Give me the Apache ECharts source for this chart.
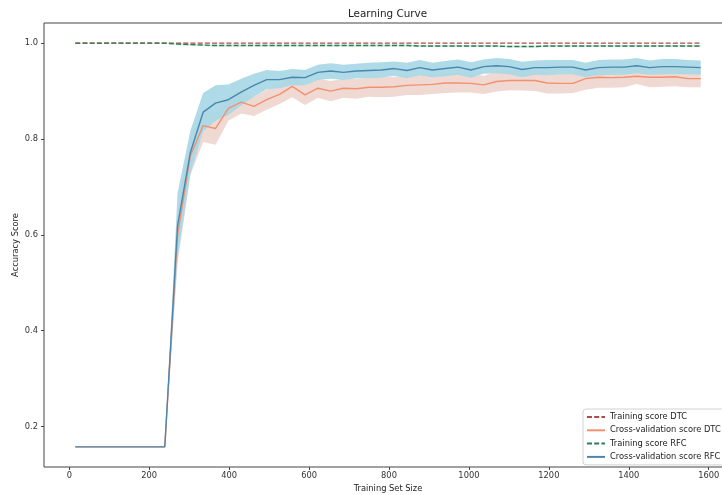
<!DOCTYPE html>
<html>
<head>
<meta charset="utf-8">
<script src="https://cdn.jsdelivr.net/npm/echarts@6/dist/echarts.min.js"></script>
<style>html,body{margin:0;padding:0;background:#fff}#c{width:722px;height:495px}</style>
</head>
<body>
<div id="c"></div>
<script>
var trainSizes = [15,47,79,111,143,175,207,239,271,303,335,366,398,430,462,494,526,558,590,622,654,686,718,750,781,813,845,877,909,941,973,1005,1037,1069,1101,1133,1165,1196,1228,1260,1292,1324,1356,1388,1420,1452,1484,1516,1548,1580];

var dtcTrainMean = [1,1,1,1,1,1,1,1,1,1,1,1,1,1,1,1,1,1,1,1,1,1,1,1,1,1,1,1,1,1,1,1,1,1,1,1,1,1,1,1,1,1,1,1,1,1,1,1,1,1];
var dtcTrainStd  = [0,0,0,0,0,0,0,0,0,0,0,0,0,0,0,0,0,0,0,0,0,0,0,0,0,0,0,0,0,0,0,0,0,0,0,0,0,0,0,0,0,0,0,0,0,0,0,0,0,0];

var dtcCvMean = [0.1576,0.1576,0.1576,0.1576,0.1576,0.1576,0.1576,0.1576,0.600,0.765,0.828,0.822,0.864,0.877,0.868,0.882,0.893,0.910,0.892,0.906,0.900,0.906,0.905,0.908,0.908,0.909,0.912,0.913,0.914,0.917,0.917,0.916,0.913,0.920,0.922,0.922,0.922,0.917,0.916,0.916,0.926,0.929,0.928,0.929,0.931,0.929,0.929,0.930,0.926,0.926];
var dtcCvStd  = [0,0,0,0,0,0,0,0,0.060,0.040,0.034,0.034,0.026,0.024,0.020,0.021,0.020,0.023,0.021,0.020,0.021,0.020,0.021,0.020,0.021,0.021,0.020,0.021,0.020,0.021,0.020,0.019,0.019,0.021,0.020,0.021,0.022,0.022,0.021,0.020,0.023,0.022,0.021,0.021,0.016,0.021,0.020,0.020,0.018,0.018];

var rfcTrainMean = [1,1,1,1,1,1,1,1,0.998,0.997,0.996,0.995,0.995,0.995,0.995,0.995,0.995,0.995,0.995,0.995,0.995,0.995,0.995,0.995,0.995,0.995,0.995,0.994,0.994,0.994,0.994,0.994,0.994,0.994,0.993,0.993,0.993,0.994,0.994,0.994,0.994,0.994,0.994,0.994,0.994,0.994,0.994,0.994,0.994,0.994];
var rfcTrainStd  = [0,0,0,0,0,0,0,0,0.002,0.002,0.002,0.002,0.002,0.002,0.002,0.002,0.002,0.002,0.002,0.002,0.002,0.002,0.002,0.002,0.002,0.002,0.002,0.002,0.002,0.002,0.002,0.002,0.002,0.002,0.002,0.002,0.002,0.002,0.002,0.002,0.002,0.002,0.002,0.002,0.002,0.002,0.002,0.002,0.002,0.002];

var rfcCvMean = [0.1576,0.1576,0.1576,0.1576,0.1576,0.1576,0.1576,0.1576,0.620,0.772,0.856,0.875,0.882,0.898,0.912,0.924,0.924,0.929,0.928,0.939,0.942,0.939,0.942,0.943,0.944,0.947,0.943,0.949,0.944,0.947,0.950,0.944,0.951,0.953,0.951,0.945,0.949,0.949,0.950,0.950,0.944,0.949,0.950,0.950,0.953,0.949,0.951,0.951,0.950,0.949];
var rfcCvStd  = [0,0,0,0,0,0,0,0,0.068,0.045,0.040,0.037,0.032,0.028,0.024,0.020,0.018,0.017,0.016,0.016,0.016,0.016,0.015,0.016,0.016,0.015,0.016,0.016,0.015,0.016,0.016,0.016,0.015,0.016,0.016,0.016,0.015,0.016,0.015,0.015,0.015,0.016,0.016,0.016,0.016,0.015,0.016,0.016,0.015,0.015];

var xTicks = [0,200,400,600,800,1000,1200,1400,1600];
var yTicks = [0.2,0.4,0.6,0.8,1.0];

var FONT = 'DejaVu Sans';
var colors = {
  dtcTrain: '#b24b48', dtcCv: '#f3916f', dtcBand: '#efd9d2',
  rfcTrain: '#2f7d56', rfcCv: '#4a87ae', rfcBand: '#abd8e6', rfcTrainBand: '#d3ebde'
};

function pairs(xs, ys) { return xs.map(function (x, i) { return [x, ys[i]]; }); }

function band(mean, std, color, opacity) {
  var rows = trainSizes.map(function (x, i) { return [x, mean[i] - std[i], mean[i] + std[i]]; });
  return {
    type: 'custom', silent: true, z: 1, data: rows,
    encode: { x: 0, y: [1, 2] },
    renderItem: function (params, api) {
      if (params.dataIndex !== 0) return null;
      var pts = [];
      for (var i = 0; i < rows.length; i++) pts.push(api.coord([rows[i][0], rows[i][2]]));
      for (var j = rows.length - 1; j >= 0; j--) pts.push(api.coord([rows[j][0], rows[j][1]]));
      return { type: 'polygon', shape: { points: pts }, style: { fill: color, opacity: opacity, stroke: null } };
    }
  };
}
function line(name, mean, color, dashed) {
  return { name: name, type: 'line', data: pairs(trainSizes, mean), symbol: 'none', z: 3,
    lineStyle: { color: color, width: 1.4, type: dashed ? [5, 2.2] : 'solid' }, itemStyle: { color: color } };
}

var series = [
  band(dtcTrainMean, dtcTrainStd, colors.dtcTrain, 0.2),
  band(dtcCvMean, dtcCvStd, colors.dtcBand, 1),
  band(rfcTrainMean, rfcTrainStd, colors.rfcTrainBand, 1),
  band(rfcCvMean, rfcCvStd, colors.rfcBand, 0.95),
  line('Training score DTC', dtcTrainMean, colors.dtcTrain, true),
  line('Cross-validation score DTC', dtcCvMean, colors.dtcCv, false),
  line('Training score RFC', rfcTrainMean, colors.rfcTrain, true),
  line('Cross-validation score RFC', rfcCvMean, colors.rfcCv, false)
];

var chart = echarts.init(document.getElementById('c'), null, { renderer: 'canvas' });
chart.setOption({
  animation: false,
  backgroundColor: '#fff',
  textStyle: { fontFamily: FONT },
  title: { text: 'Learning Curve', left: 348, top: 9, padding: 0,
    textStyle: { fontFamily: FONT, fontSize: 10.4, fontWeight: 'normal', color: '#222' } },
  grid: { left: 44, top: 23, height: 444, width: 688, show: true, borderColor: '#444', borderWidth: 1,
    containLabel: false, outerBoundsMode: 'none' },
  legend: {
    data: ['Training score DTC', 'Cross-validation score DTC', 'Training score RFC', 'Cross-validation score RFC'],
    orient: 'vertical', left: 583, top: 409, padding: [3, 4, 3, 3], itemGap: 3.3,
    itemWidth: 18, itemHeight: 8, backgroundColor: 'rgba(255,255,255,0.85)',
    borderColor: '#d2d2d2', borderWidth: 1, borderRadius: 3,
    itemStyle: { opacity: 0 },
    textStyle: { fontFamily: FONT, fontSize: 8.3, color: '#222', lineHeight: 10 }
  },
  xAxis: {
    type: 'value', min: -63.25, max: 1658.25,
    name: 'Training Set Size', nameLocation: 'middle', nameGap: 18, nameMoveOverlap: false,
    nameTextStyle: { fontFamily: FONT, fontSize: 8.3, color: '#222' },
    splitLine: { show: false },
    axisLine: { show: false, onZero: false },
    axisTick: { show: true, length: 3, customValues: xTicks, lineStyle: { color: '#444' } },
    axisLabel: { customValues: xTicks, margin: 5, fontFamily: FONT, fontSize: 8.3, color: '#333',
      formatter: function (v) { return String(Math.round(v)); } }
  },
  yAxis: {
    type: 'value', min: 0.1155, max: 1.0421,
    name: 'Accuracy Score', nameLocation: 'middle', nameGap: 24, nameMoveOverlap: false,
    nameTextStyle: { fontFamily: FONT, fontSize: 8.3, color: '#222' },
    splitLine: { show: false },
    axisLine: { show: false, onZero: false },
    axisTick: { show: true, length: 3, customValues: yTicks, lineStyle: { color: '#444' } },
    axisLabel: { customValues: yTicks, margin: 6, fontFamily: FONT, fontSize: 8.3, color: '#333',
      formatter: function (v) { return v.toFixed(1); } }
  },
  series: series
});
</script>
</body>
</html>
